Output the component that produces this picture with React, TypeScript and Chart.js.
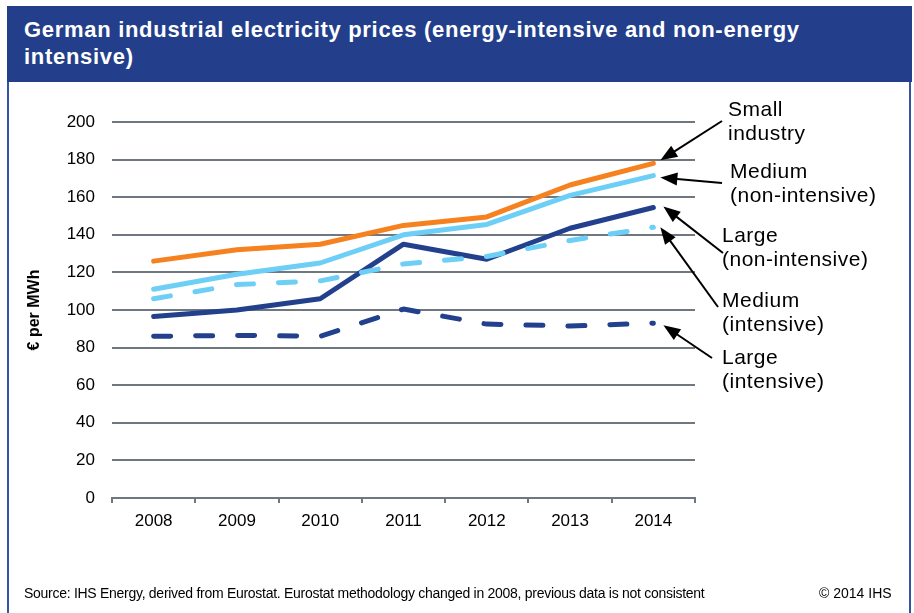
import React, { useEffect, useRef } from 'react';
import { Chart, registerables } from 'chart.js';

Chart.register(...registerables);

// ---- Data ----
const years = ['2008', '2009', '2010', '2011', '2012', '2013', '2014'];
const smallIndustry = [126, 132, 135, 145, 149.5, 166.5, 178];
const mediumNonIntensive = [111, 119, 125, 140, 145.5, 161, 171.5];
const largeNonIntensive = [96.5, 100, 106, 135, 127, 143.5, 154.5];
const mediumIntensive = [106, 113.5, 115.5, 124.5, 128.5, 137, 144];
const largeIntensive = [86, 86.5, 86, 100.5, 92.5, 91.5, 93];

const yMin = 0;
const yMax = 200;
const yStep = 20;

const titleText = 'German industrial electricity prices (energy-intensive and non-energy intensive)';
const yAxisTitle = '€ per MWh';
const sourceText =
  'Source: IHS Energy, derived from Eurostat. Eurostat methodology changed in 2008, previous data is not consistent';
const copyrightText = '© 2014 IHS';

const labelSmall = ['Small', 'industry'];
const labelMediumNon = ['Medium', '(non-intensive)'];
const labelLargeNon = ['Large', '(non-intensive)'];
const labelMediumInt = ['Medium', '(intensive)'];
const labelLargeInt = ['Large', '(intensive)'];

// ---- Styles ----
const NAVY = '#233f8b';
const ORANGE = '#f5821f';
const LIGHT = '#6dcff6';
const DARK = '#22408c';
const GRID = '#6f7880';
const FONT = '"Liberation Sans", Arial, Helvetica, sans-serif';

export default function App() {
  const ref = useRef<HTMLCanvasElement>(null);

  useEffect(() => {
    document.body.style.margin = '0';
    const canvas = ref.current;
    if (!canvas) return;

    // dataset order: index 0 is drawn on top
    const datasets = [
      { label: 'Medium (intensive)', data: mediumIntensive, borderColor: LIGHT, borderDash: [17, 25] },
      { label: 'Large (non-intensive)', data: largeNonIntensive, borderColor: DARK },
      { label: 'Large (intensive)', data: largeIntensive, borderColor: DARK, borderDash: [17, 25] },
      { label: 'Medium (non-intensive)', data: mediumNonIntensive, borderColor: LIGHT },
      { label: 'Small industry', data: smallIndustry, borderColor: ORANGE },
    ].map((d) => ({
      ...d,
      borderWidth: 5,
      borderCapStyle: 'round' as const,
      borderJoinStyle: 'round' as const,
      pointRadius: 0,
      pointHoverRadius: 0,
      fill: false,
      tension: 0,
    }));

    const annotations = [
      { ds: 4, lines: labelSmall, tx: 728, ty: 110, tail: [722, 121], tip: [7, -3] },
      { ds: 3, lines: labelMediumNon, tx: 730, ty: 172, tail: [722, 183], tip: [7, 2] },
      { ds: 1, lines: labelLargeNon, tx: 722, ty: 236, tail: [723, 253], tip: [10, -1] },
      { ds: 0, lines: labelMediumInt, tx: 722, ty: 301, tail: [718, 307], tip: [7, 0] },
      { ds: 2, lines: labelLargeInt, tx: 722, ty: 358, tail: [712, 358], tip: [10, 2] },
    ];

    const annotationPlugin = {
      id: 'sideLabels',
      afterDraw(chart: any) {
        const ctx = chart.ctx as CanvasRenderingContext2D;
        ctx.save();
        for (const a of annotations) {
          const meta = chart.getDatasetMeta(a.ds);
          const pt = meta.data[meta.data.length - 1];
          const x2 = pt.x + a.tip[0];
          const y2 = pt.y + a.tip[1];
          const x1 = a.tail[0];
          const y1 = a.tail[1];
          const ang = Math.atan2(y2 - y1, x2 - x1);
          const hl = 17;
          const hw = 6.5;
          const bx = x2 - Math.cos(ang) * hl;
          const by = y2 - Math.sin(ang) * hl;
          ctx.strokeStyle = '#000';
          ctx.fillStyle = '#000';
          ctx.lineWidth = 2;
          ctx.beginPath();
          ctx.moveTo(x1, y1);
          ctx.lineTo(x2 - Math.cos(ang) * (hl - 3), y2 - Math.sin(ang) * (hl - 3));
          ctx.stroke();
          ctx.beginPath();
          ctx.moveTo(x2, y2);
          ctx.lineTo(bx + Math.sin(ang) * hw, by - Math.cos(ang) * hw);
          ctx.lineTo(bx - Math.sin(ang) * hw, by + Math.cos(ang) * hw);
          ctx.closePath();
          ctx.fill();

          ctx.font = `21px ${FONT}`;
          (ctx as any).letterSpacing = '0.5px';
          ctx.textAlign = 'left';
          ctx.textBaseline = 'middle';
          a.lines.forEach((line, i) => {
            ctx.fillText(line, a.tx, a.ty + i * 24);
          });
          (ctx as any).letterSpacing = '0px';
        }
        ctx.restore();
      },
    };

    const chart = new Chart(canvas, {
      type: 'line',
      data: { labels: years, datasets },
      options: {
        animation: false,
        responsive: false,
        devicePixelRatio: 1,
        layout: { padding: { top: 122, right: 219, bottom: 0, left: 0 } },
        plugins: {
          legend: { display: false },
          tooltip: { enabled: false },
        },
        scales: {
          x: {
            type: 'category',
            offset: true,
            grid: {
              offset: true,
              drawOnChartArea: false,
              drawTicks: true,
              tickLength: 5,
              color: GRID,
              lineWidth: 2,
            },
            border: { display: true, color: GRID, width: 2 },
            ticks: { color: '#000', font: { family: FONT, size: 17 }, padding: 8 },
            afterFit: (scale: any) => {
              scale.height = 115;
            },
          },
          y: {
            min: yMin,
            max: yMax,
            ticks: { stepSize: yStep, color: '#000', font: { family: FONT, size: 17 }, padding: 17 },
            grid: { color: GRID, lineWidth: 2, drawTicks: false },
            border: { display: false },
            title: {
              display: true,
              text: yAxisTitle,
              color: '#000',
              font: { family: FONT, size: 16, weight: 'bold' },
              padding: { top: 25, bottom: 0 },
            },
            afterFit: (scale: any) => {
              scale.width = 112;
            },
          },
        },
      },
      plugins: [annotationPlugin],
    });

    return () => chart.destroy();
  }, []);

  return (
    <div
      style={{
        position: 'relative',
        width: 914,
        height: 613,
        overflow: 'hidden',
        background: '#fff',
        fontFamily: FONT,
      }}
    >
      <div
        style={{
          position: 'absolute',
          left: 7,
          top: 6,
          width: 905,
          height: 76,
          background: NAVY,
        }}
      >
        <div
          style={{
            position: 'absolute',
            left: 17,
            top: 10,
            width: 860,
            color: '#fff',
            fontWeight: 'bold',
            fontSize: 22,
            lineHeight: '27px',
            letterSpacing: '0.7px',
          }}
        >
          {titleText}
        </div>
      </div>
      <div style={{ position: 'absolute', left: 7, top: 82, width: 2, height: 531, background: '#3155a4' }} />
      <div style={{ position: 'absolute', left: 909, top: 82, width: 2, height: 531, background: '#3155a4' }} />
      <canvas
        ref={ref}
        width={914}
        height={613}
        style={{ position: 'absolute', left: 0, top: 0, width: 914, height: 613 }}
      />
      <div
        style={{
          position: 'absolute',
          left: 24,
          top: 585,
          fontSize: 14,
          lineHeight: '16px',
          color: '#000',
          letterSpacing: '-0.28px',
          whiteSpace: 'nowrap',
        }}
      >
        {sourceText}
      </div>
      <div
        style={{
          position: 'absolute',
          left: 819,
          top: 585,
          fontSize: 14,
          lineHeight: '16px',
          color: '#000',
          whiteSpace: 'nowrap',
        }}
      >
        {copyrightText}
      </div>
    </div>
  );
}
